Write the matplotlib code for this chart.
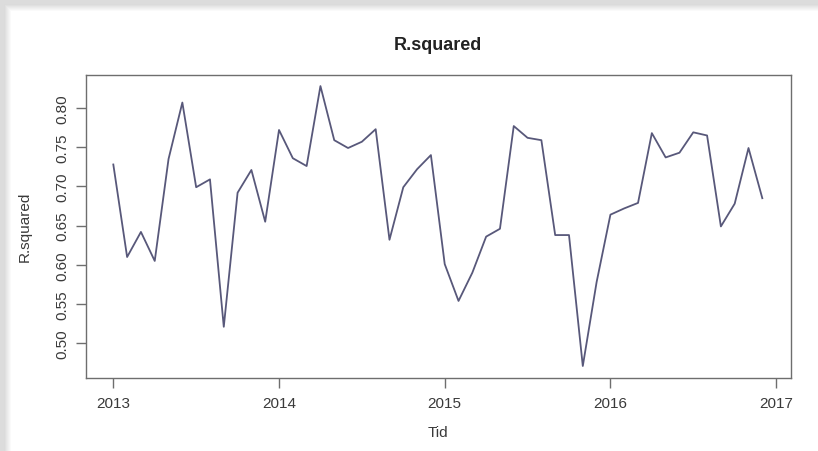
import matplotlib
matplotlib.use("Agg")
import matplotlib.pyplot as plt
from matplotlib.patches import Rectangle
import numpy as np

start_year = 2013
values = [0.728, 0.610, 0.642, 0.605, 0.735, 0.807, 0.699, 0.709, 0.521, 0.692, 0.721, 0.655,
          0.772, 0.736, 0.726, 0.828, 0.759, 0.749, 0.757, 0.773, 0.632, 0.699, 0.722, 0.740,
          0.601, 0.554, 0.590, 0.636, 0.646, 0.777, 0.762, 0.759, 0.638, 0.638, 0.471, 0.578,
          0.664, 0.672, 0.679, 0.768, 0.737, 0.743, 0.769, 0.765, 0.649, 0.678, 0.749, 0.685]
x_ticks = [2013, 2014, 2015, 2016, 2017]
y_ticks = [0.50, 0.55, 0.60, 0.65, 0.70, 0.75, 0.80]
title = "R.squared"
xlabel = "Tid"
ylabel = "R.squared"

plt.rcParams['font.family'] = ['Liberation Sans', 'DejaVu Sans']

W, H = 818, 452
fig = plt.figure(figsize=(W / 100, H / 100), dpi=100)
fig.patch.set_facecolor('#dcdcdc')

# white card with soft shadow
for i, a in enumerate(np.linspace(0.0, 1.0, 8)):
    c = 0.86 + 0.14 * a
    fig.patches.append(Rectangle(((12 - 8 + i) / W, 0), 1, (H - 13 + 8 - i) / H,
                                 transform=fig.transFigure, facecolor=(c, c, c),
                                 edgecolor='none', zorder=-10))
fig.patches.append(Rectangle((12 / W, 0), 1, (H - 13) / H, transform=fig.transFigure,
                             facecolor='white', edgecolor='none', zorder=-9))

ax = fig.add_axes([86.3 / W, 1 - 378.7 / H, (790.7 - 86.3) / W, (378.7 - 75.7) / H])
ax.set_zorder(5)
t = start_year + np.arange(len(values)) / 12.0
ax.plot(t, values, color='#58587a', lw=1.3)

ax.set_xlim(2012.837, 2017.088)
ax.set_ylim(0.4561, 0.8425)
ax.set_xticks(x_ticks)
ax.set_xticklabels([str(v) for v in x_ticks])
ax.set_yticks(y_ticks)
ax.set_yticklabels([f"{v:.2f}" for v in y_ticks], rotation=90, va='center')

for s in ax.spines.values():
    s.set_color('#6e6e6e')
    s.set_linewidth(1.0)
ax.tick_params(direction='out', length=7, width=1.0, color='#6e6e6e',
               labelsize=11, labelcolor='#3a3a3a', pad=6)
ax.tick_params(axis='y', pad=5)

fig.text(438 / W, 1 - 45 / H, title, ha='center', va='center', fontsize=13,
         fontweight='bold', color='#222222')
fig.text(438 / W, 1 - 433 / H, xlabel, ha='center', va='center', fontsize=11,
         color='#3a3a3a')
fig.text(25 / W, 1 - 227 / H, ylabel, ha='center', va='center', fontsize=11,
         color='#3a3a3a', rotation=90)

fig.savefig("out.png", dpi=100, facecolor=fig.get_facecolor())
